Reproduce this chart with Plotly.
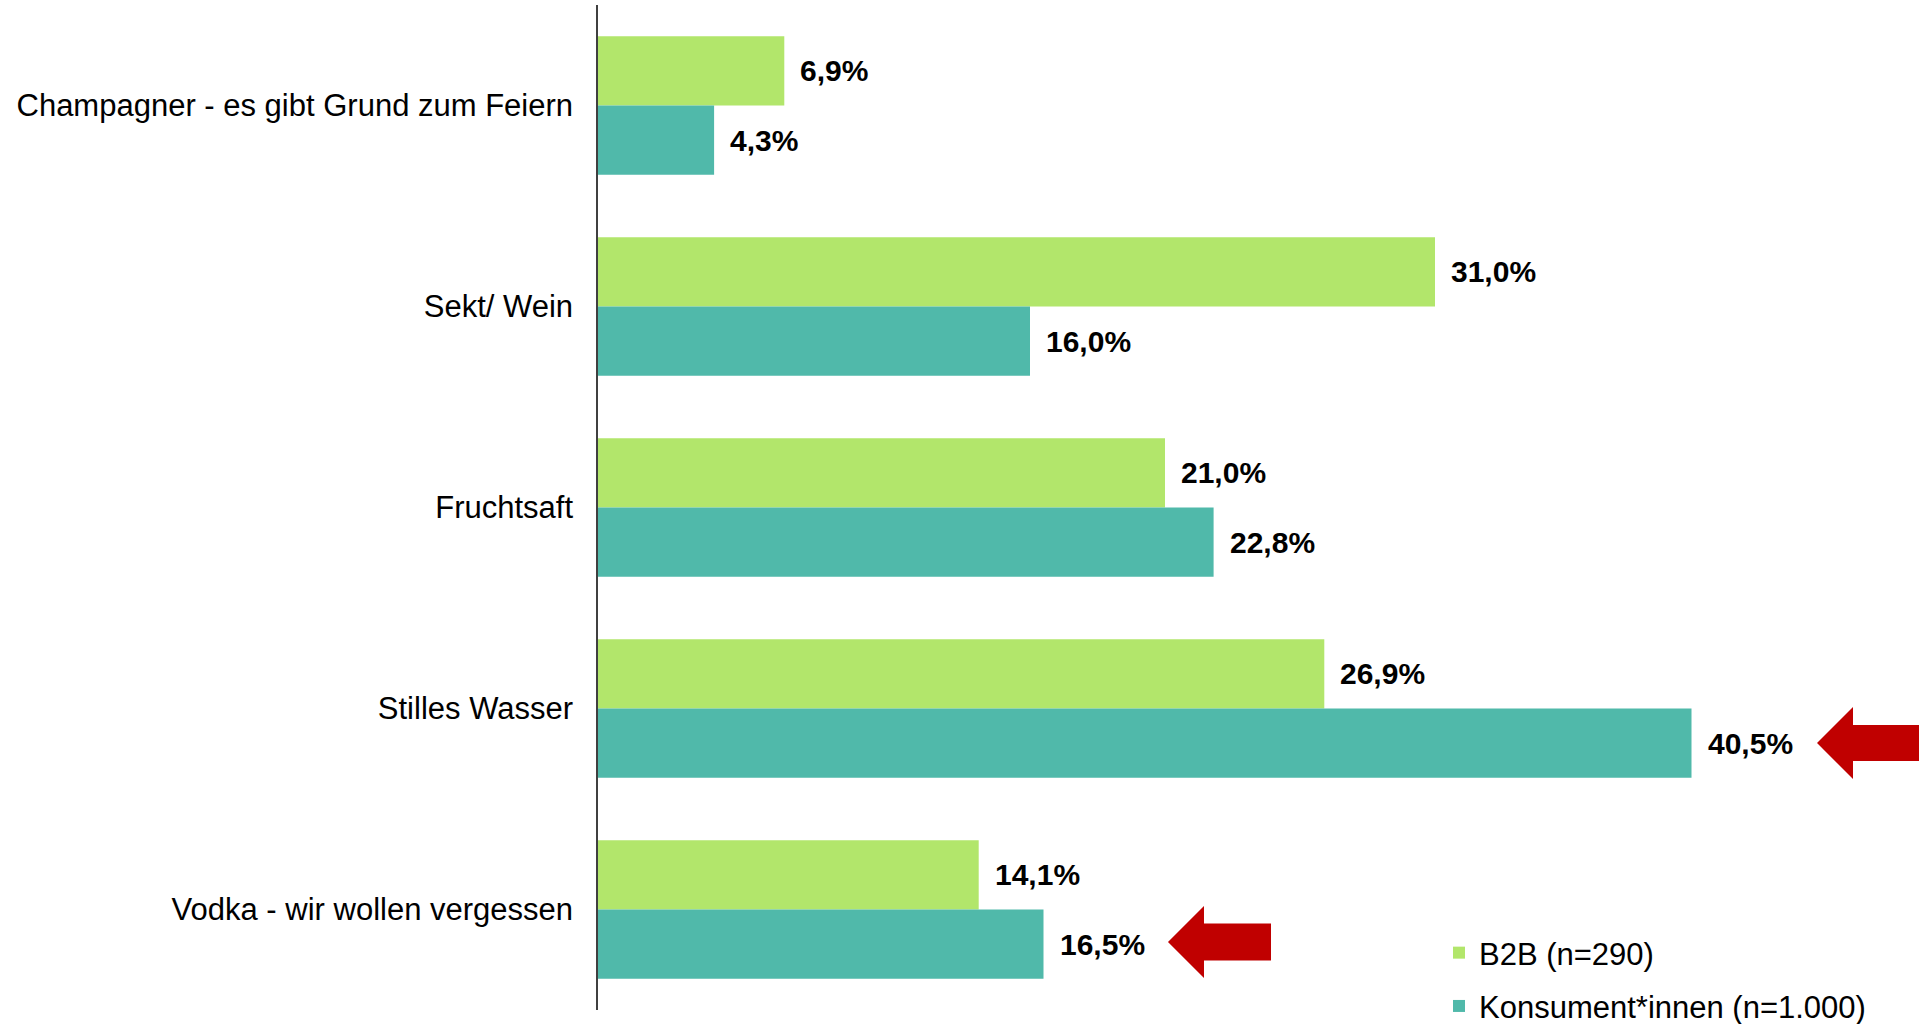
import plotly.graph_objects as go

categories = [
    "Champagner - es gibt Grund zum Feiern",
    "Sekt/ Wein",
    "Fruchtsaft",
    "Stilles Wasser",
    "Vodka - wir wollen vergessen",
]
b2b_values = [6.9, 31.0, 21.0, 26.9, 14.1]
konsument_values = [4.3, 16.0, 22.8, 40.5, 16.5]
series_names = ["B2B (n=290)", "Konsument*innen (n=1.000)"]

COL_B2B = "#B2E66B"
COL_KON = "#50B9AA"
ARROW = "#C00000"
FONT = "Liberation Sans, Arial, sans-serif"

W, H = 1919, 1024
ML, MR, MT, MB = 598, 0, 5, 14
PW, PH = W - ML - MR, H - MT - MB


def fmt(v):
    return f"{v:.1f}".replace(".", ",") + "%"


fig = go.Figure()
fig.add_trace(go.Bar(y=categories, x=b2b_values, orientation="h", name=series_names[0],
                     marker=dict(color=COL_B2B, line=dict(width=0)), legendgroup="a"))
fig.add_trace(go.Bar(y=categories, x=konsument_values, orientation="h", name=series_names[1],
                     marker=dict(color=COL_KON, line=dict(width=0)), legendgroup="b"))

bargap = 0.31
band = PH / len(categories)
bar_h = band * (1 - bargap) / 2

annotations = []
for vals, shift in ((b2b_values, bar_h / 2), (konsument_values, -bar_h / 2)):
    for c, v in zip(categories, vals):
        annotations.append(dict(x=v, y=c, xref="x", yref="y", text=fmt(v), showarrow=False,
                                xanchor="left", yanchor="middle", xshift=14, yshift=shift,
                                font=dict(family=FONT, size=30, color="#000000", weight="bold")))


def px2paper(px, py):
    return (px - ML) / PW, (H - MB - py) / PH


def arrow_path(tip_x, cy, head_x, head_half, shaft_half, end_x):
    pts = [
        (tip_x, cy),
        (head_x, cy - head_half),
        (head_x, cy - shaft_half),
        (end_x, cy - shaft_half),
        (end_x, cy + shaft_half),
        (head_x, cy + shaft_half),
        (head_x, cy + head_half),
    ]
    pp = [px2paper(x, y) for x, y in pts]
    return "M " + " L ".join(f"{x:.5f},{y:.5f}" for x, y in pp) + " Z"


shapes = [
    dict(type="path", xref="paper", yref="paper",
         path=arrow_path(1817, 743, 1853, 36, 18, 1925), fillcolor=ARROW, line=dict(width=0)),
    dict(type="path", xref="paper", yref="paper",
         path=arrow_path(1168, 942, 1204, 36, 18.5, 1271), fillcolor=ARROW, line=dict(width=0)),
]

fig.update_layout(
    width=W, height=H,
    margin=dict(l=ML, r=MR, t=MT, b=MB, pad=0, autoexpand=False),
    paper_bgcolor="white", plot_bgcolor="white",
    barmode="group", bargap=bargap, bargroupgap=0,
    font=dict(family=FONT, size=31, color="#000000"),
    xaxis=dict(range=[0, PW / 27.0], visible=False, fixedrange=True),
    yaxis=dict(autorange="reversed", showline=True, linecolor="#404040", linewidth=1.5,
               ticks="", showgrid=False, zeroline=False, ticklabelstandoff=17,
               tickfont=dict(family=FONT, size=31, color="#000000")),
    showlegend=True,
    legend=dict(xref="container", yref="container", x=1439 / W, y=1 - 926 / H,
                xanchor="left", yanchor="top", orientation="v", traceorder="grouped",
                tracegroupgap=10, font=dict(family=FONT, size=31, color="#000000"),
                bgcolor="rgba(0,0,0,0)", itemwidth=30),
    annotations=annotations,
    shapes=shapes,
)

fig.write_html("out.html", config={"displayModeBar": False},
               post_script="document.body.style.margin='0';document.body.style.overflow='hidden';")
